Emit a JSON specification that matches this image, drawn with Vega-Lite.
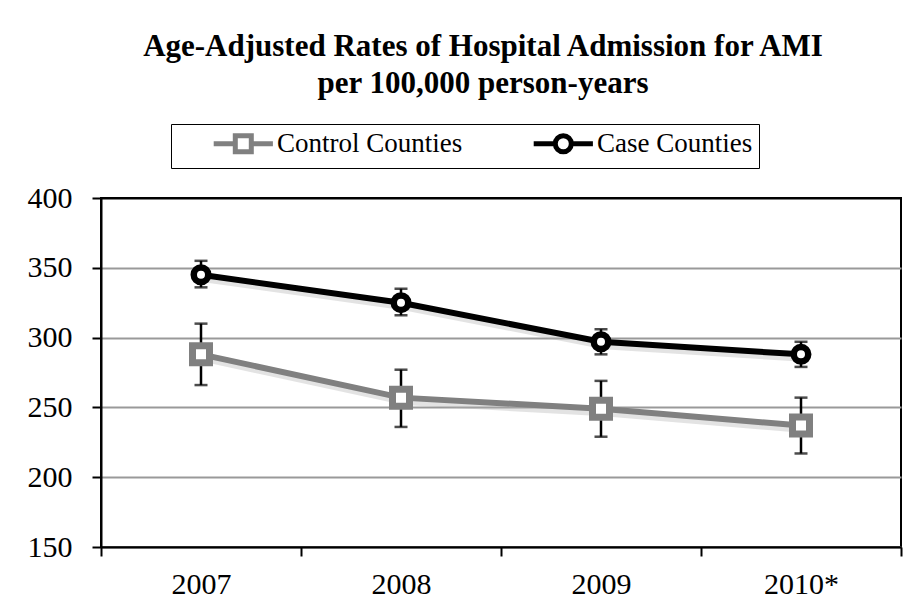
{
  "$schema": "https://vega.github.io/schema/vega-lite/v6.json",
  "width": 800,
  "height": 349,
  "autosize": {"type": "none"},
  "padding": {"left": 101, "top": 198, "right": 19, "bottom": 68},
  "background": "white",
  "title": {
    "text": ["Age-Adjusted Rates of Hospital Admission for AMI", "per 100,000 person-years"],
    "font": "Liberation Serif",
    "fontSize": 31,
    "fontWeight": "bold",
    "lineHeight": 37,
    "color": "black",
    "anchor": "middle",
    "dx": -18,
    "offset": 24
  },
  "config": {
    "view": {"stroke": "black", "strokeWidth": 2},
    "font": "Liberation Serif"
  },
  "data": {
    "values": [
      {"year": "2007", "series": "Control Counties", "value": 288, "lo": 266, "hi": 310},
      {"year": "2008", "series": "Control Counties", "value": 257, "lo": 236, "hi": 277},
      {"year": "2009", "series": "Control Counties", "value": 249, "lo": 229, "hi": 269},
      {"year": "2010*", "series": "Control Counties", "value": 237, "lo": 217, "hi": 257},
      {"year": "2007", "series": "Case Counties", "value": 345, "lo": 336, "hi": 355},
      {"year": "2008", "series": "Case Counties", "value": 325, "lo": 316, "hi": 335},
      {"year": "2009", "series": "Case Counties", "value": 297, "lo": 288, "hi": 306},
      {"year": "2010*", "series": "Case Counties", "value": 288, "lo": 279, "hi": 297}
    ]
  },
  "encoding": {
    "x": {
      "field": "year",
      "type": "ordinal",
      "scale": {"paddingInner": 0, "paddingOuter": 0},
      "axis": {
        "title": null,
        "labelAngle": 0,
        "tickBand": "extent",
        "domainColor": "black",
        "domainWidth": 2,
        "tickColor": "black",
        "tickWidth": 2,
        "tickSize": 9,
        "labelFont": "Liberation Serif",
        "labelFontSize": 30,
        "labelColor": "black",
        "labelPadding": 13
      }
    }
  },
  "layer": [
    {
      "mark": {"type": "line", "strokeWidth": 7, "xOffset": 3, "yOffset": 4, "opacity": 0.35, "color": "#b0b0b0"},
      "encoding": {
        "y": {
          "field": "value",
          "type": "quantitative",
          "scale": {"domain": [150, 400], "nice": false, "zero": false},
          "axis": {
            "title": null,
            "values": [150, 200, 250, 300, 350, 400],
            "grid": true,
            "gridColor": {"condition": {"test": "datum.value === 400", "value": "black"}, "value": "#999999"},
            "gridWidth": 2,
            "domainColor": "black",
            "domainWidth": 2,
            "tickColor": "black",
            "tickWidth": 2,
            "tickSize": 9,
            "labelFont": "Liberation Serif",
            "labelFontSize": 30,
            "labelColor": "black",
            "labelPadding": 20
          }
        },
        "detail": {"field": "series", "type": "nominal"}
      }
    },
    {
      "transform": [{"filter": "datum.series === 'Control Counties'"}],
      "mark": {"type": "line", "strokeWidth": 6, "color": "#808080"},
      "encoding": {"y": {"field": "value", "type": "quantitative"}}
    },
    {
      "transform": [{"filter": "datum.series === 'Case Counties'"}],
      "mark": {"type": "line", "strokeWidth": 6, "color": "#000000"},
      "encoding": {"y": {"field": "value", "type": "quantitative"}}
    },
    {
      "mark": {"type": "rule", "color": "black", "strokeWidth": 2.5},
      "encoding": {
        "y": {"field": "lo", "type": "quantitative"},
        "y2": {"field": "hi"}
      }
    },
    {
      "mark": {"type": "tick", "color": "black", "thickness": 2.5, "size": 13, "orient": "horizontal"},
      "encoding": {"y": {"field": "lo", "type": "quantitative"}}
    },
    {
      "mark": {"type": "tick", "color": "black", "thickness": 2.5, "size": 13, "orient": "horizontal"},
      "encoding": {"y": {"field": "hi", "type": "quantitative"}}
    },
    {
      "transform": [{"filter": "datum.series === 'Control Counties'"}],
      "mark": {"type": "point", "shape": "square", "filled": true, "fill": "white", "stroke": "#808080", "strokeWidth": 7, "size": 289, "opacity": 1},
      "encoding": {"y": {"field": "value", "type": "quantitative"}}
    },
    {
      "transform": [{"filter": "datum.series === 'Case Counties'"}],
      "mark": {"type": "point", "shape": "circle", "filled": true, "fill": "white", "stroke": "black", "strokeWidth": 6.5, "size": 210, "opacity": 1},
      "encoding": {"y": {"field": "value", "type": "quantitative"}}
    },
    {
      "mark": {"type": "point", "opacity": 0, "strokeWidth": 5, "filled": false},
      "encoding": {
        "y": {"field": "value", "type": "quantitative"},
        "color": {
          "field": "series",
          "type": "nominal",
          "scale": {"domain": ["Control Counties", "Case Counties"], "range": ["#808080", "#000000"]},
          "legend": {
            "title": null,
            "orient": "none",
            "legendX": 70,
            "legendY": -74,
            "direction": "horizontal",
            "strokeColor": "black",
            "fillColor": "white",
            "padding": 6,
            "labelFont": "Liberation Serif",
            "labelFontSize": 27,
            "labelColor": "black",
            "labelLimit": 400,
            "symbolSize": 256,
            "symbolOpacity": 1,
            "symbolStrokeWidth": 5,
            "labelOffset": 73,
            "columnPadding": 34,
            "encode": {"legend": {"update": {"strokeWidth": {"value": 2}}}}
          }
        },
        "shape": {
          "field": "series",
          "type": "nominal",
          "scale": {
            "domain": ["Control Counties", "Case Counties"],
            "range": [
              "M2.9,0H5.6M7.6,0H10.3M5.6,-1H7.6V1H5.6Z",
              "M2.9,0H5.6M7.6,0H10.3M5.6,0A1,1,0,1,0,7.6,0A1,1,0,1,0,5.6,0Z"
            ]
          }
        }
      }
    }
  ]
}
